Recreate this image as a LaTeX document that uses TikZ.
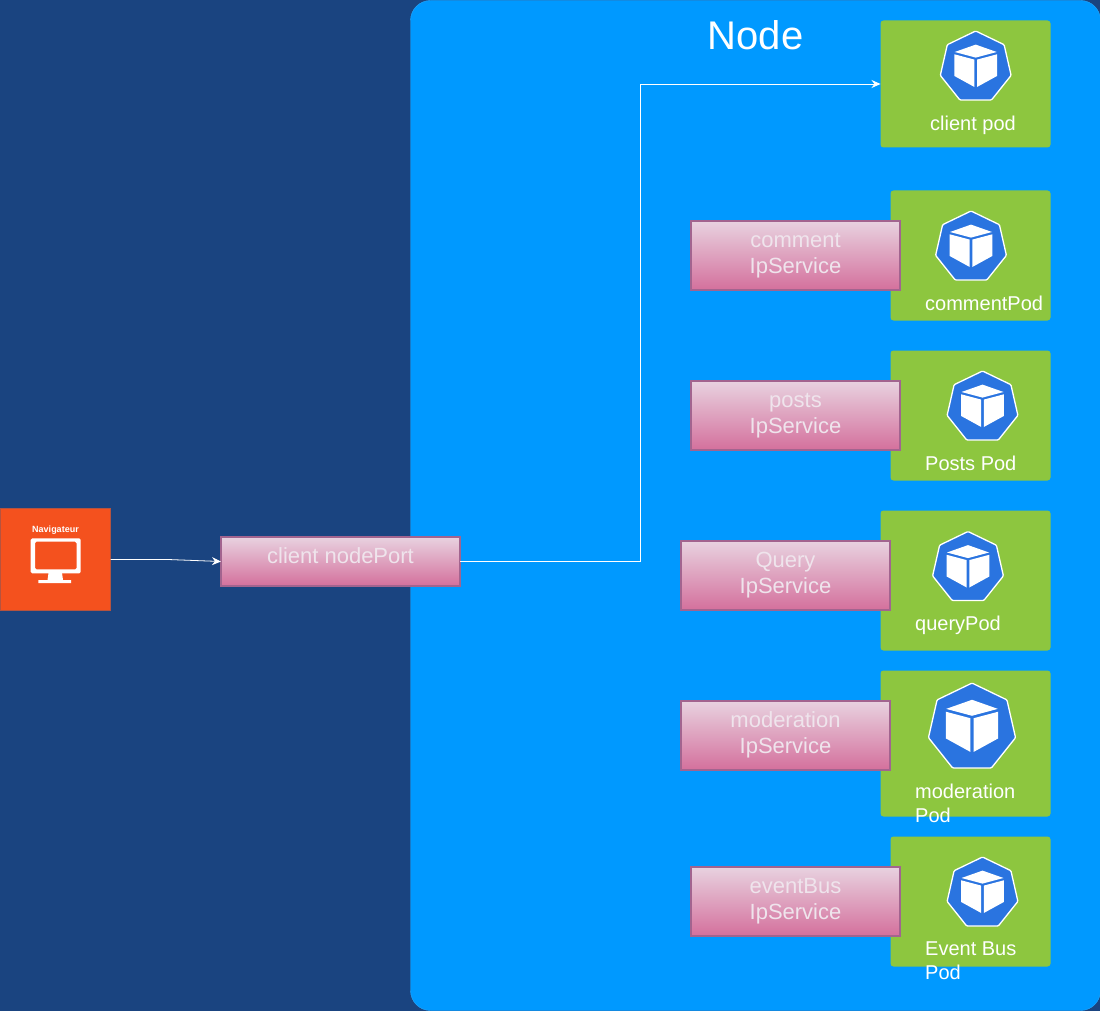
\documentclass[tikz,border=0pt]{standalone}
\usepackage{fontspec}
\setmainfont{Liberation Sans}
\usetikzlibrary{arrows.meta}
\definecolor{bgblue}{HTML}{1A4480}
\definecolor{nodeblue}{HTML}{0099FF}
\definecolor{podgreen}{HTML}{8DC63F}
\definecolor{navorange}{HTML}{F4511E}
\definecolor{navedge}{HTML}{B5533F}
\definecolor{svctop}{HTML}{E8D2E0}
\definecolor{svcbot}{HTML}{D4709C}
\definecolor{svcedge}{HTML}{A2648F}
\definecolor{svctext}{HTML}{EFE4EC}
\definecolor{k8sblue}{HTML}{2A74E0}
\tikzset{
  nodearea/.style={fill=nodeblue,draw=nodeblue!85!white,rounded corners=20pt,minimum width=690pt,minimum height=1010pt,inner sep=0pt,outer sep=0pt},
  nodetitle/.style={text=white,font=\fontsize{40}{46}\selectfont,inner sep=0pt},
  podbox/.style={fill=podgreen,rounded corners=3pt,inner sep=0pt,outer sep=0pt},
  svcbox/.style={top color=svctop,bottom color=svcbot,draw=svcedge,line width=2pt,inner sep=0pt,outer sep=0pt,minimum width=209.5pt,minimum height=69pt,text=svctext,font=\fontsize{22}{26}\selectfont},
  podtext/.style={text=white,font=\fontsize{20}{24}\selectfont,inner sep=0pt,align=left},
  navbox/.style={fill=navorange,draw=navedge,line width=1pt,inner sep=0pt,outer sep=0pt,minimum width=110pt,minimum height=102pt},
  navtext/.style={text=white,font=\fontsize{9}{11}\selectfont\bfseries,inner sep=0pt},
  link/.style={draw=white,line width=0.8pt,-{Stealth[length=9pt,width=8pt]}}
}
\newcommand{\svclabel}[2]{\raisebox{8.1pt}[0pt][0pt]{\begin{tabular}[t]{@{}c@{}}#1\\#2\end{tabular}}}
\newcommand{\podicon}[3]{%
  \begin{scope}[shift={(#1,#2)},scale=#3]
    \draw[fill=k8sblue,draw=white,line width=1.3pt,line join=round,rounded corners=1pt]
      (0,-36.3) -- (28.4,-22.6) -- (35.4,8.1) -- (15.8,32.7) -- (-15.8,32.7) -- (-35.4,8.1) -- (-28.4,-22.6) -- cycle;
    \fill[white] (0,-22.7) -- (21,-15.3) -- (0,-9.7) -- (-21,-15.3) -- cycle;
    \fill[white] (-21.3,-13) -- (-1.3,-7.7) -- (-1.3,19.7) -- (-21.3,8.7) -- cycle;
    \fill[white] (21.3,-13) -- (1.3,-7.7) -- (1.3,19.7) -- (21.3,8.7) -- cycle;
  \end{scope}}
\begin{document}
\begin{tikzpicture}[x=1pt,y=-1pt]
\useasboundingbox (0,0) rectangle (1100,1011);
\fill[bgblue] (0,0) rectangle (1100,1011);
\node[nodearea] (area) at (755.5,505.5) {};
\node[nodetitle] (title) at (755.5,35) {Node};

% pods
\node[podbox,minimum width=170pt,minimum height=127pt] (clientpod) at (965.5,84) {};
\node[podbox,minimum width=160pt,minimum height=130pt] (commentpod) at (970.5,255.5) {};
\node[podbox,minimum width=160pt,minimum height=130pt] (postspod) at (970.5,415.5) {};
\node[podbox,minimum width=170pt,minimum height=140pt] (querypod) at (965.5,580.5) {};
\node[podbox,minimum width=170pt,minimum height=146pt] (modpod) at (965.5,743.5) {};
\node[podbox,minimum width=160pt,minimum height=130pt] (eventpod) at (970.5,901.5) {};

\podicon{975.7}{67.3}{1}
\podicon{971}{247.3}{1}
\podicon{982.5}{407.3}{1}
\podicon{968}{567.8}{1}
\podicon{972}{727.7}{1.23}
\podicon{982.5}{893.3}{1}

\node[podtext,anchor=base west] (clientlbl) at (930,130.7) {client pod};
\node[podtext,anchor=base west] (commentlbl) at (925,310) {commentPod};
\node[podtext,anchor=base west] (postslbl) at (925,470) {Posts Pod};
\node[podtext,anchor=base west] (querylbl) at (915,630) {queryPod};
\node[podtext,anchor=west] (modlbl) at (915,803) {moderation\\Pod};
\node[podtext,anchor=west] (eventlbl) at (925,961) {Event Bus\\Pod};

% services
\node[svcbox] (commentsvc) at (795.5,255.5) {\svclabel{comment}{IpService}};
\node[svcbox] (postssvc) at (795.5,415.5) {\svclabel{posts}{IpService}};
\node[svcbox] (querysvc) at (785.5,575.5) {\svclabel{Query}{IpService}};
\node[svcbox] (modsvc) at (785.5,735.5) {\svclabel{moderation}{IpService}};
\node[svcbox] (eventsvc) at (795.5,901.5) {\svclabel{eventBus}{IpService}};

% browser and node port
\node[navbox] (nav) at (55.5,559.5) {};
\node[navtext] (navlbl) at (55.5,530.5) {Navigateur};
\fill[white,rounded corners=1.5pt,even odd rule] (30.7,538.3) rectangle (80.7,573.3) (35,541.7) rectangle (76.7,569.3);
\fill[white] (48.5,573) -- (62,573) -- (63,580) -- (71,580) -- (71,583) -- (38.3,583) -- (38.3,580) -- (47.5,580) -- cycle;
\node[svcbox,minimum width=239pt,minimum height=49pt] (port) at (340.5,561.5) {\raisebox{-1.5pt}[0pt][0pt]{client nodePort}};

% connectors
\coordinate (navbend) at (168,559.5);
\coordinate (podkink) at (640.5,84);
\draw[link] (nav.east) -- (navbend) -- (port.west);
\draw[link] (port.east) -| (podkink) -- (clientpod.west);
\end{tikzpicture}
\end{document}
